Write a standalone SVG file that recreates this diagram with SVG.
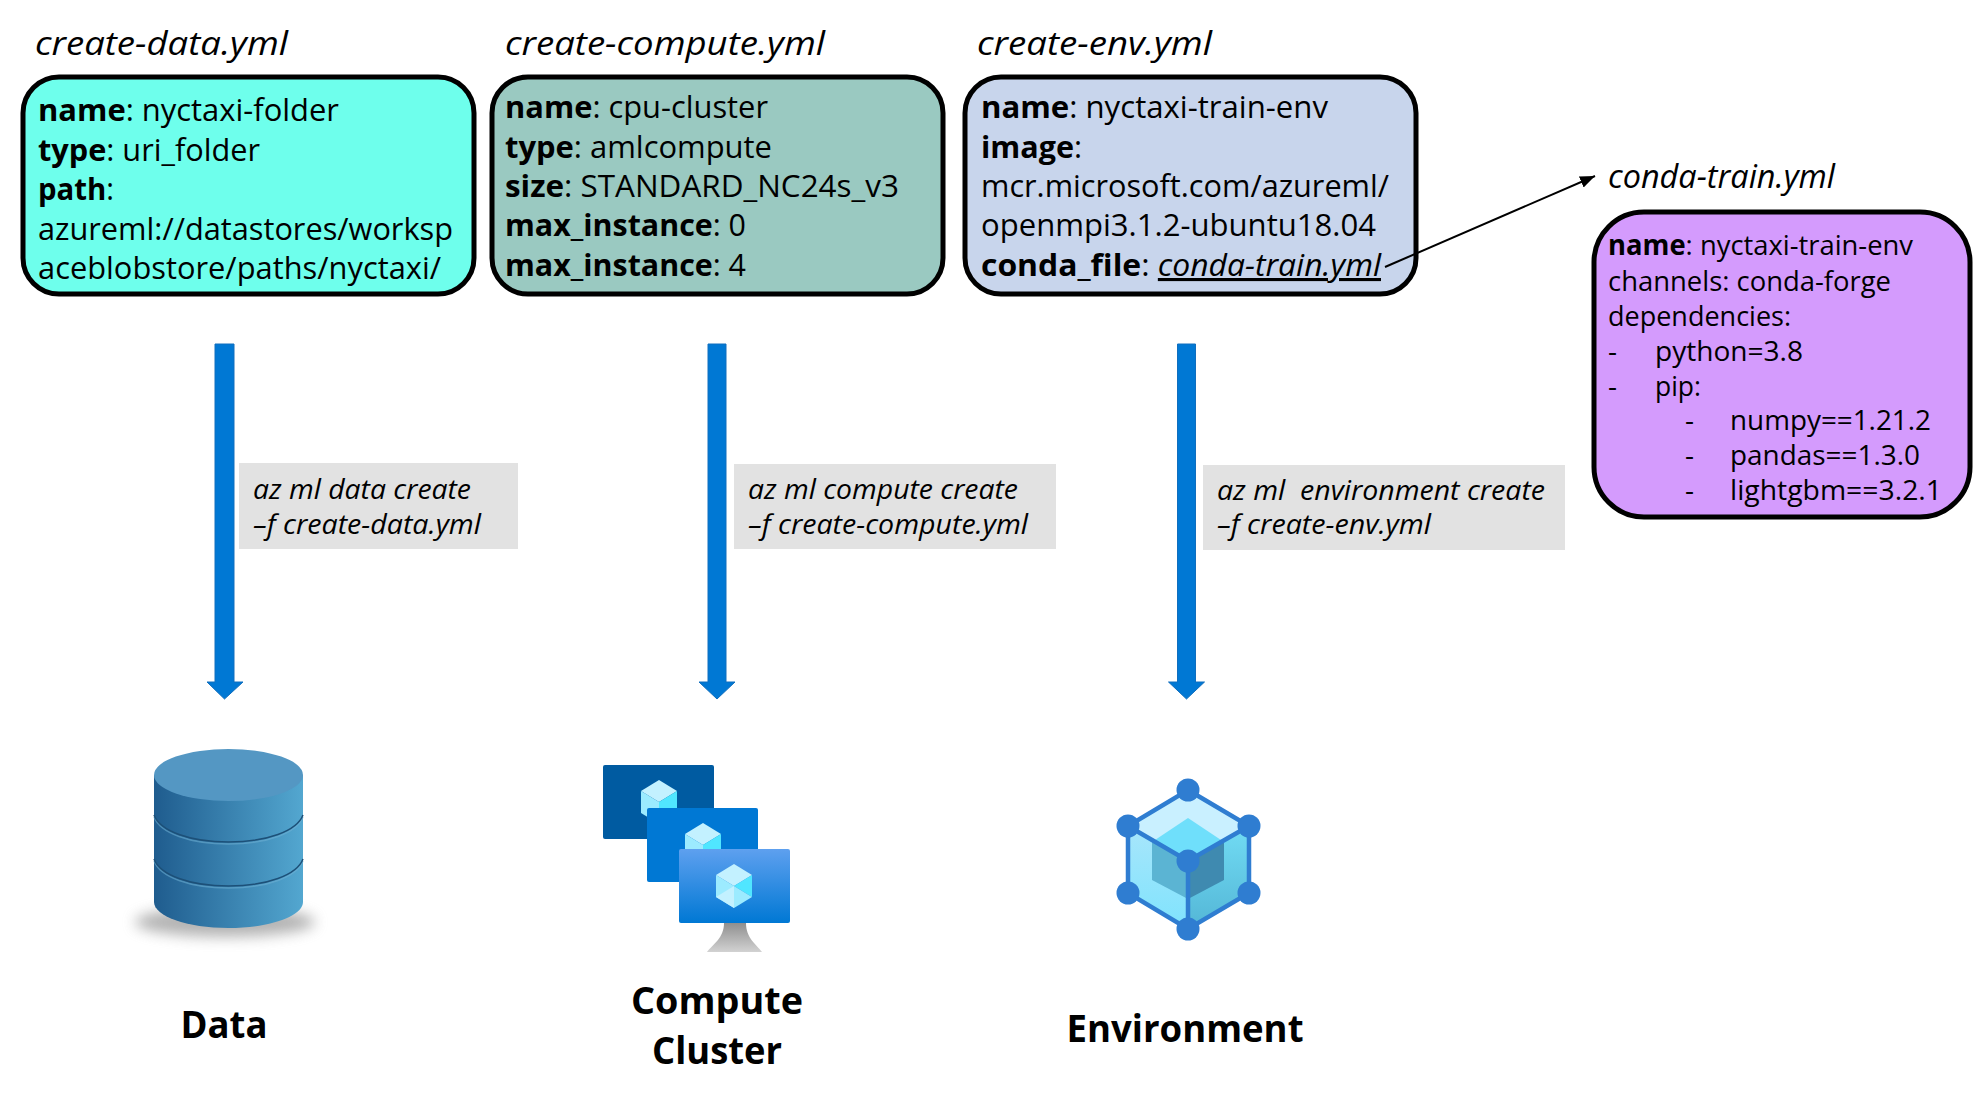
<svg xmlns="http://www.w3.org/2000/svg" width="1980" height="1114" viewBox="0 0 1980 1114">
<style>
text{font-family:"Open Sans","Noto Sans","Liberation Sans",sans-serif;fill:#000}
.t{font-size:33px;font-style:italic}
.b{font-size:31px}
.s{font-size:28px}
.l{font-size:27px;font-style:italic}
.c{font-size:37px;font-weight:700;text-anchor:middle}
.h{font-weight:700}
.box{stroke:#000;stroke-width:5}
.tag{fill:#e2e2e2}
.blue{fill:#0078d4;stroke:#106ebe;stroke-width:1}
</style>
<defs>
<marker id="ah" markerUnits="userSpaceOnUse" markerWidth="16" markerHeight="14" refX="15" refY="6" orient="auto"><path d="M0 0L15 6L0 12Z" fill="#000"/></marker>
<linearGradient id="cyl" x1="0" x2="1" y1="0" y2="0"><stop offset="0" stop-color="#1f5c8e"/><stop offset="1" stop-color="#53a7d0"/></linearGradient>
<linearGradient id="mon" x1="0" x2="0" y1="0" y2="1"><stop offset="0" stop-color="#5ea0ef"/><stop offset="1" stop-color="#0078d4"/></linearGradient>
<linearGradient id="st" x1="0" x2="0" y1="0" y2="1"><stop offset="0" stop-color="#8f8f8f"/><stop offset="1" stop-color="#d2d2d2"/></linearGradient>
<linearGradient id="hl" x1="0" x2="0" y1="0" y2="1"><stop offset="0" stop-color="#a8e6fb"/><stop offset="1" stop-color="#7fe3fd"/></linearGradient>
<linearGradient id="hr" x1="0" x2="0" y1="0" y2="1"><stop offset="0" stop-color="#72dcf4"/><stop offset="1" stop-color="#53b6d6"/></linearGradient>
<filter id="bl" x="-30%" y="-100%" width="160%" height="300%"><feGaussianBlur stdDeviation="7"/></filter>
<g id="cube"><path d="M0-22L18-11L0 0L-18-11Z" fill="#c3f1ff"/><path d="M-18-11L0 0L0 22L-18 11Z" fill="#9cebff"/><path d="M18-11L0 0L0 22L18 11Z" fill="#50e6ff"/></g>
</defs>
<rect width="1980" height="1114" fill="#fff"/>

<g id="node-create-data">
<text class="t" x="35" y="55" textLength="253" lengthAdjust="spacingAndGlyphs">create-data.yml</text>
<rect class="box" x="23" y="77" width="451" height="217" rx="36" fill="#6effec"/>
<text class="b" x="38" y="121" textLength="301" lengthAdjust="spacingAndGlyphs"><tspan class="h">name</tspan>: nyctaxi-folder</text>
<text class="b" x="38" y="161" textLength="222" lengthAdjust="spacingAndGlyphs"><tspan class="h">type</tspan>: uri_folder</text>
<text class="b" x="38" y="200" textLength="76" lengthAdjust="spacingAndGlyphs"><tspan class="h">path</tspan>:</text>
<text class="b" x="38" y="240" textLength="415" lengthAdjust="spacingAndGlyphs">azureml://datastores/worksp</text>
<text class="b" x="38" y="279" textLength="403" lengthAdjust="spacingAndGlyphs">aceblobstore/paths/nyctaxi/</text>
</g>

<g id="node-create-compute">
<text class="t" x="505" y="55" textLength="320" lengthAdjust="spacingAndGlyphs">create-compute.yml</text>
<rect class="box" x="492" y="77" width="451" height="217" rx="36" fill="#9ac9c1"/>
<text class="b" x="505" y="118" textLength="263" lengthAdjust="spacingAndGlyphs"><tspan class="h">name</tspan>: cpu-cluster</text>
<text class="b" x="505" y="158" textLength="267" lengthAdjust="spacingAndGlyphs"><tspan class="h">type</tspan>: amlcompute</text>
<text class="b" x="505" y="197" textLength="394" lengthAdjust="spacingAndGlyphs"><tspan class="h">size</tspan>: STANDARD_NC24s_v3</text>
<text class="b" x="505" y="236" textLength="241" lengthAdjust="spacingAndGlyphs"><tspan class="h">max_instance</tspan>: 0</text>
<text class="b" x="505" y="276" textLength="241" lengthAdjust="spacingAndGlyphs"><tspan class="h">max_instance</tspan>: 4</text>
</g>

<g id="node-create-env">
<text class="t" x="977" y="55" textLength="235" lengthAdjust="spacingAndGlyphs">create-env.yml</text>
<rect class="box" x="965" y="77" width="451" height="217" rx="36" fill="#c8d5ec"/>
<text class="b" x="981" y="118" textLength="347" lengthAdjust="spacingAndGlyphs"><tspan class="h">name</tspan>: nyctaxi-train-env</text>
<text class="b" x="981" y="158" textLength="101" lengthAdjust="spacingAndGlyphs"><tspan class="h">image</tspan>:</text>
<text class="b" x="981" y="197" textLength="408" lengthAdjust="spacingAndGlyphs">mcr.microsoft.com/azureml/</text>
<text class="b" x="981" y="236" textLength="395" lengthAdjust="spacingAndGlyphs">openmpi3.1.2-ubuntu18.04</text>
<text class="b" x="981" y="276" textLength="400" lengthAdjust="spacingAndGlyphs"><tspan class="h">conda_file</tspan>: <tspan font-style="italic" text-decoration="underline">conda-train.yml</tspan></text>
</g>

<g id="node-conda-train">
<text class="t" x="1608" y="188" textLength="227" lengthAdjust="spacingAndGlyphs">conda-train.yml</text>
<rect class="box" x="1594" y="212" width="376" height="305" rx="50" fill="#d49bfd"/>
<text class="s" x="1608" y="255" textLength="305" lengthAdjust="spacingAndGlyphs"><tspan class="h">name</tspan>: nyctaxi-train-env</text>
<text class="s" x="1608" y="291" textLength="283" lengthAdjust="spacingAndGlyphs">channels: conda-forge</text>
<text class="s" x="1608" y="326" textLength="183" lengthAdjust="spacingAndGlyphs">dependencies:</text>
<text class="s" x="1608" y="361">-</text>
<text class="s" x="1655" y="361" textLength="148" lengthAdjust="spacingAndGlyphs">python=3.8</text>
<text class="s" x="1608" y="396">-</text>
<text class="s" x="1655" y="396" textLength="46" lengthAdjust="spacingAndGlyphs">pip:</text>
<text class="s" x="1685" y="430">-</text>
<text class="s" x="1730" y="430" textLength="201" lengthAdjust="spacingAndGlyphs">numpy==1.21.2</text>
<text class="s" x="1685" y="465">-</text>
<text class="s" x="1730" y="465" textLength="190" lengthAdjust="spacingAndGlyphs">pandas==1.3.0</text>
<text class="s" x="1685" y="500">-</text>
<text class="s" x="1730" y="500" textLength="212" lengthAdjust="spacingAndGlyphs">lightgbm==3.2.1</text>
</g>

<g id="node-cmd-data">
<rect class="tag" x="239" y="463" width="279" height="86"/>
<text class="l" x="253" y="499" textLength="218" lengthAdjust="spacingAndGlyphs">az ml data create</text>
<text class="l" x="253" y="534" textLength="228" lengthAdjust="spacingAndGlyphs">–f create-data.yml</text>
</g>
<g id="node-cmd-compute">
<rect class="tag" x="734" y="464" width="322" height="85"/>
<text class="l" x="748" y="499" textLength="270" lengthAdjust="spacingAndGlyphs">az ml compute create</text>
<text class="l" x="748" y="534" textLength="280" lengthAdjust="spacingAndGlyphs">–f create-compute.yml</text>
</g>
<g id="node-cmd-env">
<rect class="tag" x="1203" y="465" width="362" height="85"/>
<text class="l" x="1217" y="500" textLength="328" lengthAdjust="spacingAndGlyphs" xml:space="preserve">az ml  environment create</text>
<text class="l" x="1217" y="534" textLength="214" lengthAdjust="spacingAndGlyphs">–f create-env.yml</text>
</g>

<g id="node-data">
<ellipse cx="225" cy="922" rx="90" ry="15" fill="#8a8a8a" opacity=".65" filter="url(#bl)"/>
<path d="M154 775V902C154 916 187 928 228.500 928S303 916 303 902V775Z" fill="url(#cyl)"/>
<path d="M154 817C160 833 190 844 228.500 844S297 833 303 817M154 861C160 877 190 888 228.500 888S297 877 303 861" fill="none" stroke="#6fb0d4" stroke-opacity=".55" stroke-width="1.500"/>
<path d="M154 815C160 831 190 842 228.500 842S297 831 303 815M154 859C160 875 190 886 228.500 886S297 875 303 859" fill="none" stroke="#1d5078" stroke-width="1.500"/>
<ellipse cx="228.500" cy="775" rx="74.500" ry="26" fill="#5497c3"/>
<text class="c" x="224" y="1038" textLength="87" lengthAdjust="spacingAndGlyphs">Data</text>
</g>

<g id="node-compute">
<rect x="603" y="765" width="111" height="74" rx="2" fill="#005ba1"/>
<use href="#cube" x="659" y="802"/>
<rect x="647" y="808" width="111" height="74" rx="2" fill="#0078d4"/>
<use href="#cube" x="703" y="845"/>
<path d="M724 923H746C746 938 756 944 762 952H707C713 944 724 938 724 923Z" fill="url(#st)"/>
<rect x="679" y="849" width="111" height="74" rx="2" fill="url(#mon)"/>
<g transform="translate(734 886)"><path d="M0-22L18-11L0 0L-18-11Z" fill="#c3f1ff"/><path d="M-18-11L0 0L0 22L-18 11Z" fill="#9cebff"/><path d="M18-11L0 0L18 11Z" fill="#50e6ff"/><path d="M0 0L18 11L0 22Z" fill="#9cebff"/><path d="M0 0L-18 11L0 22Z" fill="#c3f1ff"/></g>
<text class="c" x="717" y="1014" textLength="172" lengthAdjust="spacingAndGlyphs">Compute</text>
<text class="c" x="717" y="1064" textLength="130" lengthAdjust="spacingAndGlyphs">Cluster</text>
</g>

<g id="node-environment">
<path d="M1188 790L1249 826L1188 861L1128 826Z" fill="#c9f0ff"/>
<path d="M1128 826L1188 861V929L1128 893Z" fill="url(#hl)"/>
<path d="M1249 826L1188 861V929L1249 893Z" fill="url(#hr)"/>
<path d="M1188 818L1224 842L1188 861L1152 842Z" fill="#6fdffb"/>
<path d="M1152 842L1188 861V899L1152 880Z" fill="#5bb4d3"/>
<path d="M1224 842L1188 861V899L1224 880Z" fill="#3f8ab0"/>
<path d="M1188 790L1249 826V893L1188 929L1128 893V826ZM1128 826L1188 861L1249 826M1188 861V929" fill="none" stroke="#2f7dd1" stroke-width="4.500"/>
<g fill="#2f7dd1"><circle cx="1188" cy="790" r="11.500"/><circle cx="1128" cy="826" r="11.500"/><circle cx="1249" cy="826" r="11.500"/><circle cx="1188" cy="861" r="11.500"/><circle cx="1128" cy="893" r="11.500"/><circle cx="1249" cy="893" r="11.500"/><circle cx="1188" cy="929" r="11.500"/></g>
<text class="c" x="1185" y="1042" textLength="237" lengthAdjust="spacingAndGlyphs">Environment</text>
</g>

<g id="connectors">
<path class="blue" d="M215 344H234V682H243L224.500 699L207 682H215Z"/>
<path class="blue" d="M708 344H726V682H735L717 699L699 682H708Z"/>
<path class="blue" d="M1177.500 344H1195.500V682H1204.500L1186.500 699L1168.500 682H1177.500Z"/>
<path d="M1385 267L1595 176" stroke="#000" stroke-width="2" fill="none" marker-end="url(#ah)"/>
</g>
</svg>
